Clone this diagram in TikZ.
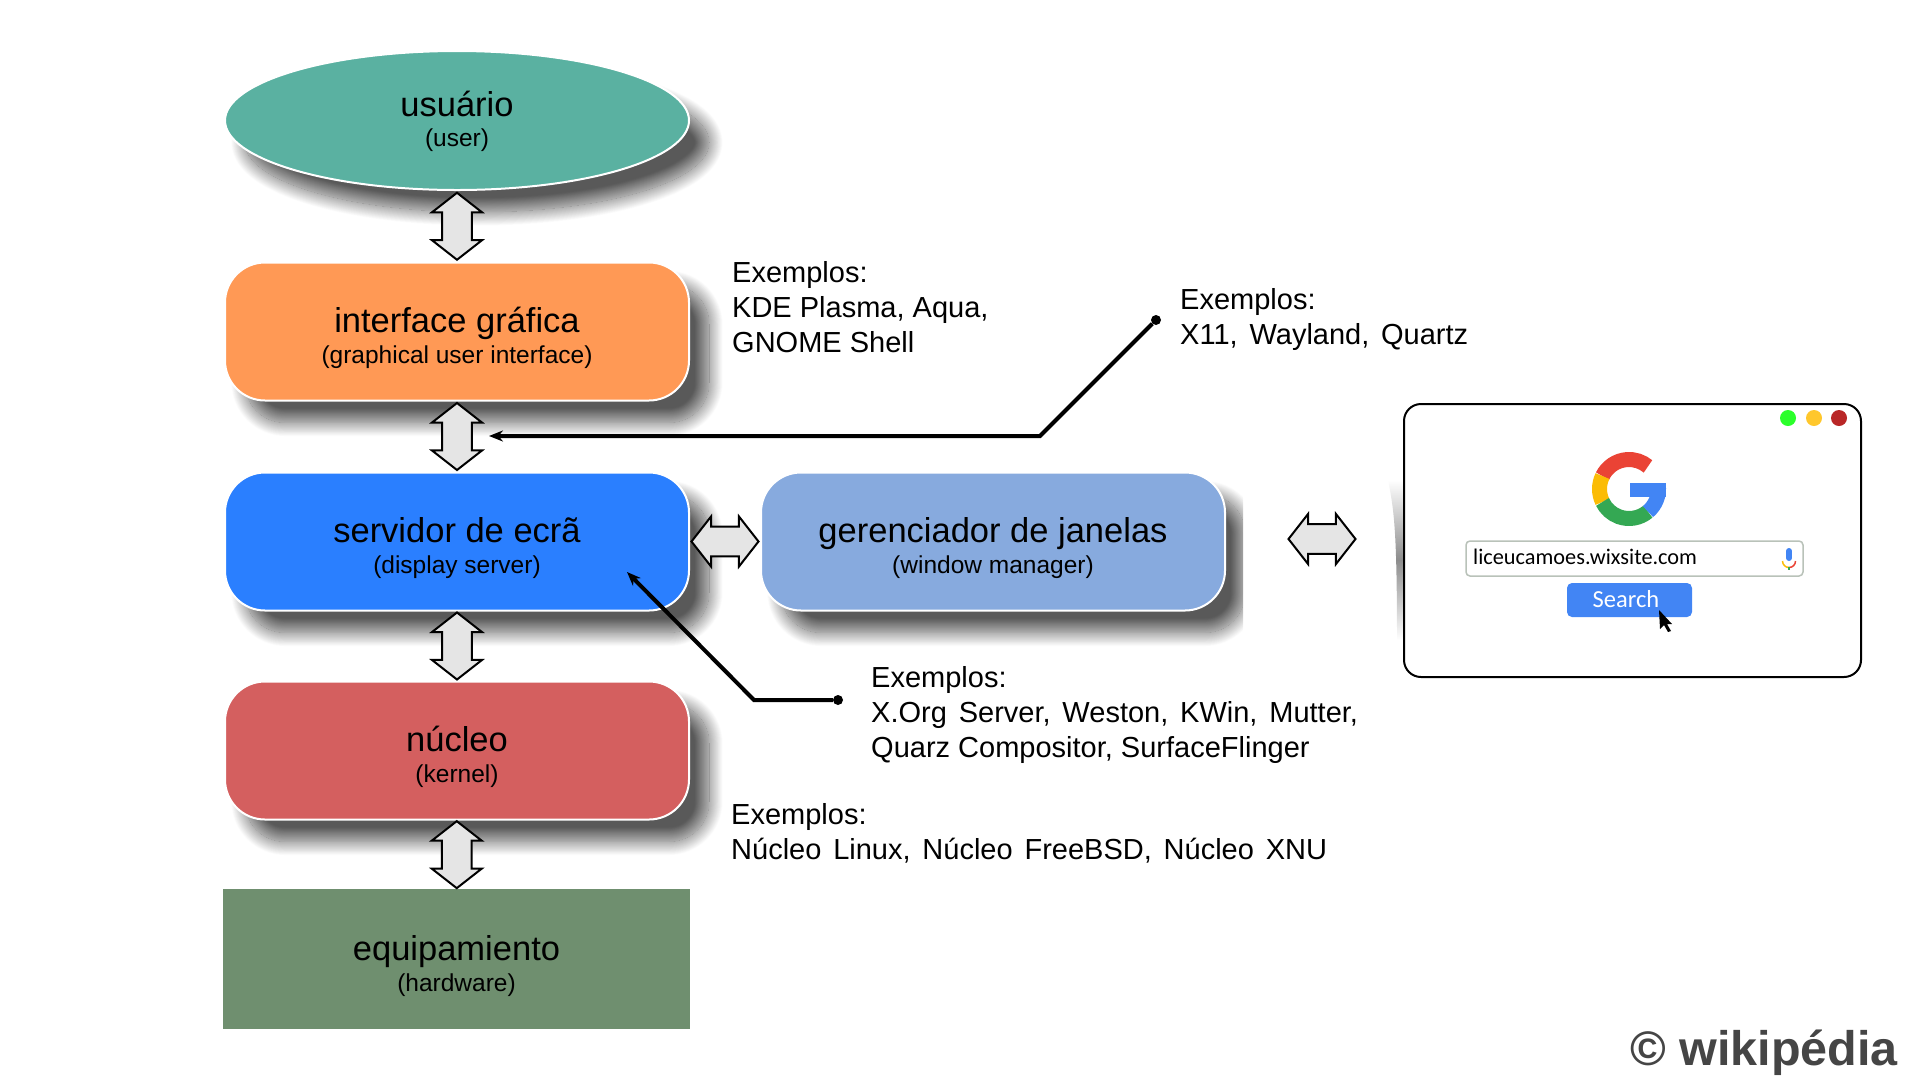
\documentclass[tikz,border=0pt]{standalone}
\usepackage{fontspec}
\setmainfont{Liberation Sans}
\newfontfamily\uifont{Carlito}
\newfontfamily\widefont[WordSpace=1.47]{Liberation Sans}
\usetikzlibrary{arrows.meta,calc,shapes.arrows,shapes.geometric,shadows.blur}

\definecolor{usercol}{HTML}{5AB1A1}
\definecolor{guicol}{HTML}{FF9955}
\definecolor{servercol}{HTML}{2A7FFF}
\definecolor{kernelcol}{HTML}{D45F5F}
\definecolor{wmcol}{HTML}{87AADE}
\definecolor{hwcol}{HTML}{6F8F6F}
\definecolor{gblue}{HTML}{4285F4}
\definecolor{gred}{HTML}{EA4335}
\definecolor{gyellow}{HTML}{FBBC05}
\definecolor{ggreen}{HTML}{34A853}
\definecolor{dotgreen}{HTML}{2BFF2B}
\definecolor{dotyellow}{HTML}{FFC72C}
\definecolor{dotred}{HTML}{B92727}

\newcommand{\mainfs}{\fontsize{34.5}{33}\selectfont}
\newcommand{\subfs}{\fontsize{24.5}{33}\selectfont}
\newcommand{\notefs}{\fontsize{29}{35}\selectfont}
\newcommand{\wideline}[1]{{\widefont #1}}

\tikzset{
    layershadow/.style={blur shadow={shadow xshift=20pt,shadow yshift=-22pt,shadow blur radius=14pt,
        shadow blur steps=30,shadow opacity=65}},
    layerbox/.style={rectangle,rounded corners=40pt,minimum width=464pt,minimum height=138pt,font=\subfs,
        draw=white,line width=2pt,inner sep=0pt,align=center,layershadow},
    dblarrow/.style={double arrow,draw=black,fill=black!10,line width=2pt,inner sep=0pt,outer sep=0pt,
        text height=19pt,text depth=0pt,minimum height=67pt,minimum width=50pt,
        double arrow head indent=0pt,double arrow tip angle=104},
    notetext/.style={anchor=north west,align=left,inner sep=0pt,font=\notefs},
    pointer/.style={line width=4pt,-{Stealth[length=14pt,width=11pt]}},
    pointerdot/.style={circle,fill=black,inner sep=0pt,minimum size=10pt}
}

\begin{document}
\begin{tikzpicture}[x=1pt,y=-1pt]
    \useasboundingbox (0,0) rectangle (1920,1080);

    % camadas
    \node[ellipse,minimum width=464pt,minimum height=139pt,draw=white,line width=2pt,inner sep=0pt,font=\subfs,
        align=center,fill=usercol,layershadow] (user) at (457,120.5)
        {\rule{0pt}{27pt}\mainfs usuário\\[-3pt]\subfs (user)};
    \foreach \y/\id/\col/\main/\sub in {
        331.5/gui/guicol/interface gráfica/(graphical user interface),
        541.5/server/servercol/servidor de ecrã/(display server),
        750.5/kernel/kernelcol/núcleo/(kernel)
    } {
        \node[layerbox,fill=\col] (\id) at (457,\y)
            {\rule{0pt}{38pt}\mainfs \main\\[-1.5pt]\subfs \sub};
    }
    \begin{scope}
        \clip (740,450) rectangle (1243,665);
        \node[layerbox,fill=wmcol] (wm) at (993,541.5)
            {\rule{0pt}{38pt}\mainfs gerenciador de janelas\\[-1.5pt]\subfs (window manager)};
    \end{scope}
    \node[rectangle,fill=hwcol,minimum width=467pt,minimum height=140pt,inner sep=0pt,align=center,font=\subfs] (hw) at (456.5,959)
        {\rule{0pt}{39pt}\mainfs equipamiento\\[-1.5pt]\subfs (hardware)};

    % setas duplas
    \node[dblarrow,rotate=90] (a1) at ($(user.south)!.5!(gui.north)$) {};
    \node[dblarrow,rotate=90] (a2) at ($(gui.south)!.5!(server.north)$) {};
    \node[dblarrow,rotate=90] (a3) at ($(server.south)!.5!(kernel.north)$) {};
    \node[dblarrow,rotate=90] (a4) at ($(kernel.south)!.5!(hw.north)$) {};
    \node[dblarrow] (a5) at ($(server.east)!.5!(wm.west)$) {};
    \node[dblarrow] (a6) at (1322,539) {};

    % exemplos
    \node[notetext] (notegui) at (732,261) {Exemplos:\\KDE Plasma, Aqua,\\GNOME Shell};
    \node[notetext] (noteproto) at (1180,288) {Exemplos:\\\wideline{X11, Wayland, Quartz}};
    \node[notetext] (noteserver) at (871,666) {Exemplos:\\\wideline{X.Org Server, Weston, KWin, Mutter,}\\Quarz Compositor, SurfaceFlinger};
    \node[notetext] (notekernel) at (731,803) {Exemplos:\\\wideline{Núcleo Linux, Núcleo FreeBSD, Núcleo XNU}};

    % ponteiros
    \node[pointerdot] (dotproto) at (1156,320) {};
    \coordinate (bendproto) at (1040,436);
    \coordinate (tipproto) at (489,436);
    \draw[pointer] (dotproto) -- (bendproto) -- (tipproto);
    \node[pointerdot] (dotserver) at (838,700) {};
    \coordinate (bendserver) at (754,700);
    \coordinate (tipserver) at (627,572);
    \draw[pointer] (dotserver) -- (bendserver) -- (tipserver);

    % janela
    \shade[top color=white,bottom color=white,middle color=black!45] (1388,480) .. controls (1394,510) and (1397,530) .. (1397,640)
        -- (1404,640) -- (1404,480) -- cycle;
    \node[rectangle,draw=black,fill=white,line width=2pt,rounded corners=17pt,minimum width=457pt,
        minimum height=273pt,inner sep=0pt] (browser) at (1632.5,540.5) {};
    \foreach \x/\col in {1788/dotgreen,1814/dotyellow,1839/dotred} {
        \fill[\col] (\x,418) circle (8pt);
    }

    % logotipo
    \draw[gred,line width=15pt] (1629,489) ++(154:29.5pt) arc[start angle=154,end angle=50,radius=29.5pt];
    \draw[gyellow,line width=15pt] (1629,489) ++(206:29.5pt) arc[start angle=206,end angle=154,radius=29.5pt];
    \draw[ggreen,line width=15pt] (1629,489) ++(310:29.5pt) arc[start angle=310,end angle=206,radius=29.5pt];
    \draw[gblue,line width=15pt] (1629,489) ++(310:29.5pt) arc[start angle=310,end angle=368,radius=29.5pt];
    \fill[gblue] (1630,483) rectangle (1666,497);

    % busca
    \node[rectangle,draw=black!25!green!10!gray!50,fill=white,line width=1.5pt,rounded corners=4pt,minimum width=337pt,
        minimum height=35pt,inner sep=0pt] (searchbox) at (1634.5,558.5) {};
    \node[anchor=base west,inner sep=0pt,font=\uifont\fontsize{22.3}{26}\selectfont] (url) at (1473,564) {liceucamoes.wixsite.com};
    \node[rectangle,fill=gblue,rounded corners=5pt,minimum width=125pt,minimum height=34pt,inner sep=0pt] (searchbtn) at (1629.5,600) {};
    \node[anchor=base,inner sep=0pt,text=white,font=\uifont\fontsize{24.5}{28}\selectfont] (searchtxt) at (1626,607) {Search};
    \draw[gblue,line width=6pt,line cap=round] (1789,551) -- (1789,558);
    \draw[gred,line width=1.5pt] (1795.5,561) arc[start angle=0,end angle=-90,radius=6.5pt] -- ++(-1pt,0);
    \draw[gyellow,line width=1.5pt] (1782.5,561) arc[start angle=180,end angle=270,radius=6.5pt];
    \draw[ggreen,line width=1.5pt] (1789,567) -- (1789,570);
    \fill[black] (1659,610) -- (1672,624) -- (1667,624) -- (1671,631) -- (1668,632) -- (1664,625) -- (1660,629) -- cycle;

    % marca
    \node[anchor=base west,inner sep=0pt,text=black!73,font=\fontsize{48.5}{50}\selectfont\bfseries] (wiki) at (1630,1065) {© wikipédia};
\end{tikzpicture}
\end{document}
